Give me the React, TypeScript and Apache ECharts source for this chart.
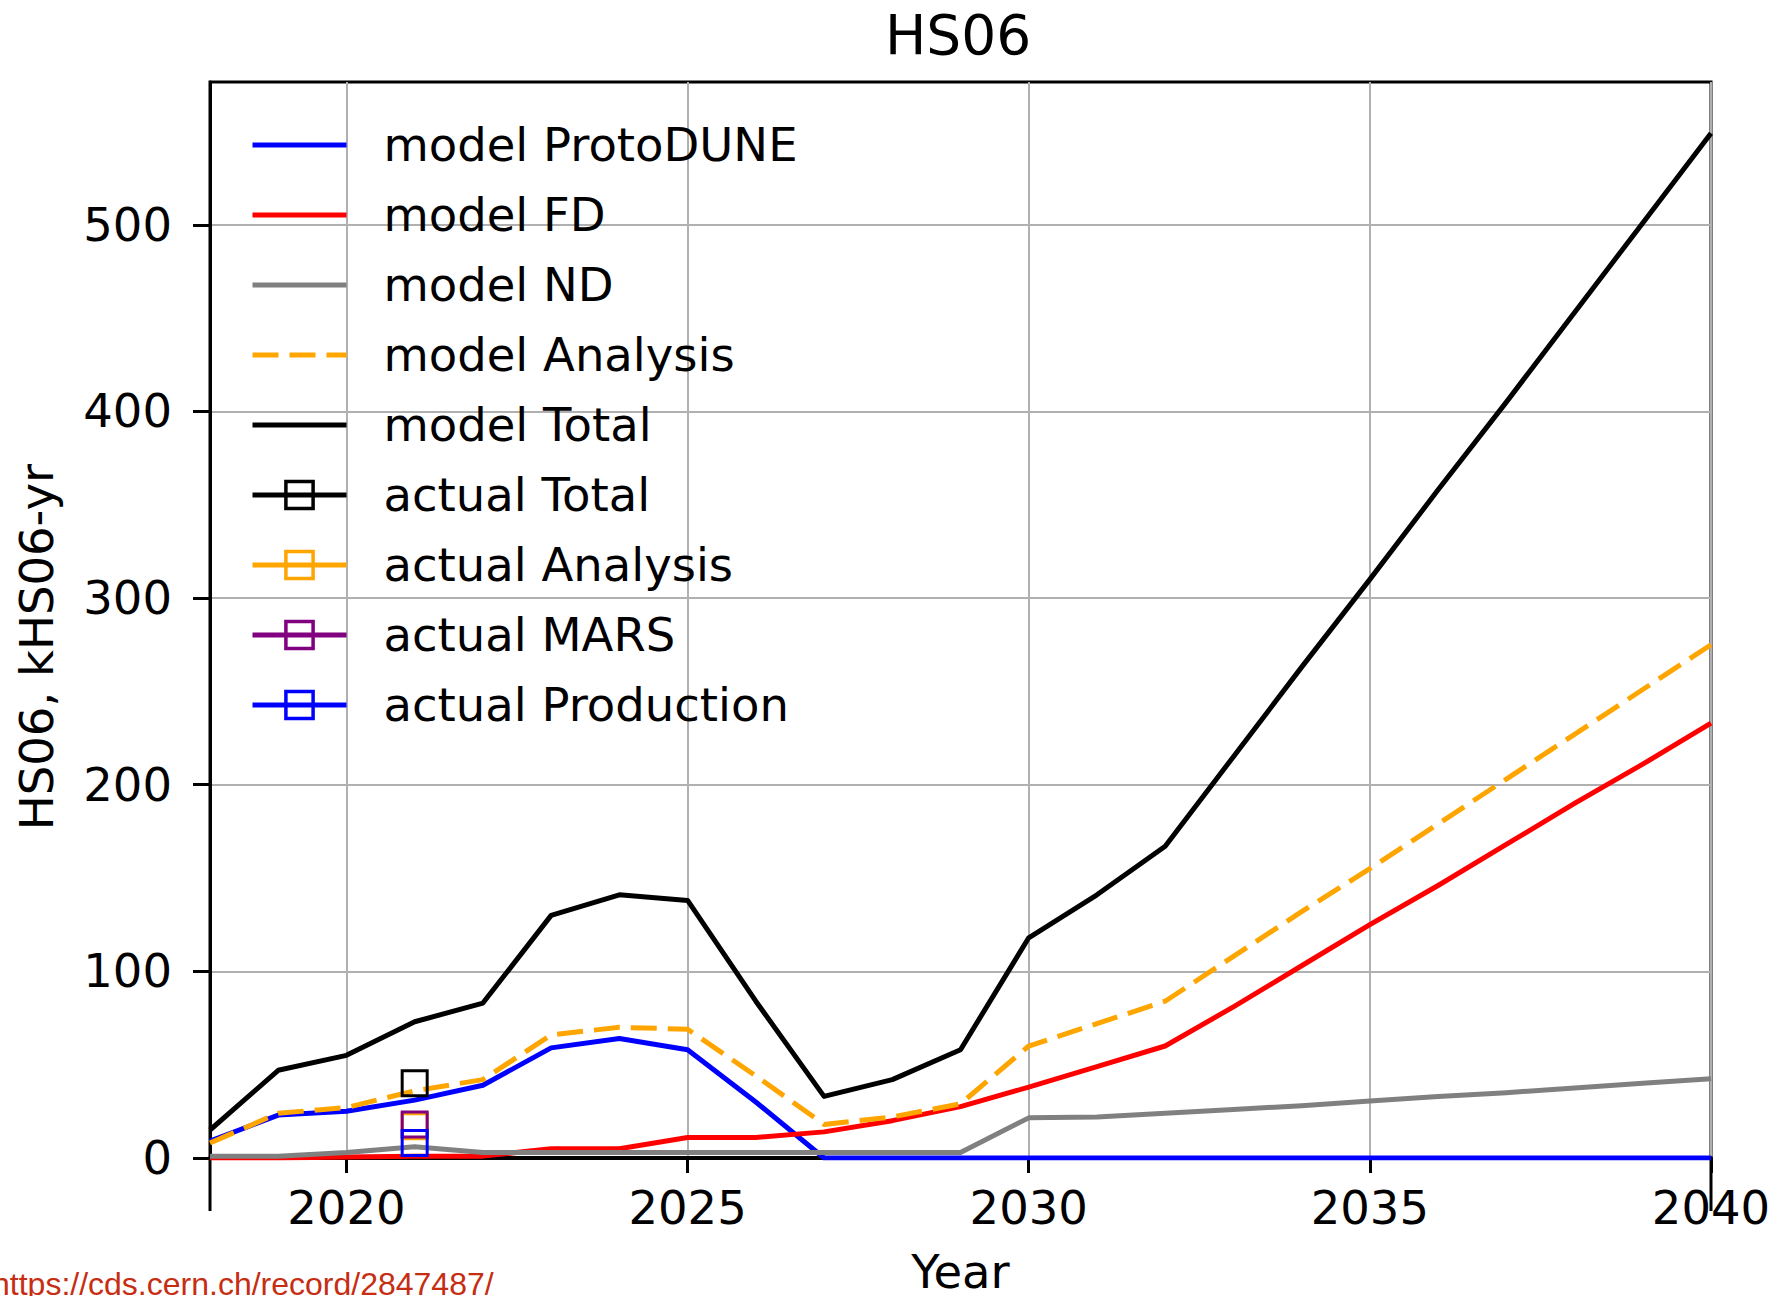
import React, { useEffect, useRef } from 'react';
import * as echarts from 'echarts';

const years = [2018, 2019, 2020, 2021, 2022, 2023, 2024, 2025, 2026, 2027, 2028, 2029, 2030, 2031, 2032, 2033, 2034, 2035, 2036, 2037, 2038, 2039, 2040];

const modelProtoDUNE = [9, 23, 25, 31, 39, 59, 64, 58, 30, 0, 0, 0, 0, 0, 0, 0, 0, 0, 0, 0, 0, 0, 0];
const modelFD = [0, 0, 0.5, 1, 1, 5, 5, 11, 11, 14, 20, 27.5, 38, 49, 60, 81, 103, 125, 146, 168, 190, 211, 233];
const modelND = [1, 1, 3, 6, 3, 3, 3, 3, 3, 3, 3, 3, 21.5, 22, 24, 26, 28, 30.5, 33, 35, 37.5, 40, 42.5];
const modelAnalysis = [8, 24, 27, 36, 42, 66, 70, 69, 44, 18, 22, 29, 60, 72, 84, 108, 132, 155, 179, 203, 227, 251, 275];
const modelTotal = [15, 47, 55, 73, 83, 130, 141, 138, 84, 33, 42, 58, 118, 141, 167, 215, 263, 310, 358, 405, 453, 501, 549];

const actualYears = [2021];
const actualTotal = [40];
const actualAnalysis = [17];
const actualMARS = [18];
const actualProduction = [8];

const xTicks = [2020, 2025, 2030, 2035, 2040];
const yTicks = [0, 100, 200, 300, 400, 500];

const FONT = 'DejaVu Sans';
const FS = 46.5;

function pairs(xs: number[], ys: number[]) {
  return xs.map((x, i) => [x, ys[i]]);
}

function modelSeries(name: string, values: number[], color: string, dashed = false) {
  return {
    name,
    type: 'line',
    data: pairs(years, values),
    symbol: 'none',
    showSymbol: false,
    itemStyle: { color },
    lineStyle: { color, width: 5, type: dashed ? [26, 11] : 'solid', cap: 'butt', join: 'round' },
    emphasis: { disabled: true },
  };
}

function actualSeries(name: string, values: number[], color: string) {
  return {
    name,
    type: 'line',
    data: pairs(actualYears, values),
    symbol: 'rect',
    symbolSize: 25,
    showSymbol: true,
    itemStyle: { color: 'rgba(0,0,0,0)', borderColor: color, borderWidth: 3 },
    lineStyle: { color, width: 5 },
    emphasis: { disabled: true },
  };
}

export default function App() {
  const ref = useRef<HTMLDivElement>(null);

  useEffect(() => {
    const chart = echarts.init(ref.current!, null, { renderer: 'svg' });
    const option: any = {
      animation: false,
      backgroundColor: '#ffffff',
      title: {
        text: 'HS06',
        left: 880,
        top: 2,
        textStyle: { fontFamily: FONT, fontSize: 55, fontWeight: 'normal', color: '#000' },
      },
      grid: {
        left: 210,
        top: 82,
        right: 59,
        bottom: 138,
        show: true,
        borderColor: '#000',
        borderWidth: 3,
        backgroundColor: 'transparent',
        containLabel: false,
        outerBoundsMode: 'none',
      },
      legend: {
        orient: 'vertical',
        left: 245,
        top: 105,
        padding: 5,
        itemWidth: 94,
        itemHeight: 34,
        itemGap: 0,
        selectedMode: false,
        itemStyle: { borderWidth: 3.5 },
        lineStyle: { width: 5 },
        textStyle: {
          fontFamily: FONT,
          fontSize: FS,
          color: '#000',
          lineHeight: 70,
          padding: [0, 0, 0, 32],
        },
        data: [
          { name: 'model ProtoDUNE', itemStyle: { opacity: 0 } },
          { name: 'model FD', itemStyle: { opacity: 0 } },
          { name: 'model ND', itemStyle: { opacity: 0 } },
          { name: 'model Analysis', itemStyle: { opacity: 0 } },
          { name: 'model Total', itemStyle: { opacity: 0 } },
          { name: 'actual Total' },
          { name: 'actual Analysis' },
          { name: 'actual MARS' },
          { name: 'actual Production' },
        ],
      },
      xAxis: {
        type: 'value',
        min: 2018,
        max: 2040,
        name: 'Year',
        nameLocation: 'middle',
        nameGap: 90,
        nameTextStyle: { fontFamily: FONT, fontSize: FS, color: '#000' },
        axisLine: { show: true, onZero: false, lineStyle: { color: '#000', width: 4 } },
        axisTick: { show: true, length: 15, lineStyle: { color: '#000', width: 3 }, customValues: xTicks },
        axisLabel: {
          show: true,
          margin: 26,
          fontFamily: FONT,
          fontSize: FS,
          color: '#000',
          customValues: xTicks,
          formatter: (v: number) => String(v),
        },
        splitLine: { show: true, lineStyle: { color: '#b0b0b0', width: 2 } },
      },
      yAxis: {
        type: 'value',
        min: 0,
        max: 576.5,
        axisLine: { show: true, lineStyle: { color: '#000', width: 3 } },
        axisTick: { show: true, length: 17, lineStyle: { color: '#000', width: 3 }, customValues: yTicks },
        axisLabel: {
          show: true,
          margin: 38,
          fontFamily: FONT,
          fontSize: FS,
          color: '#000',
          customValues: yTicks,
        },
        splitLine: { show: true, lineStyle: { color: '#b0b0b0', width: 2 } },
      },
      graphic: [
        {
          type: 'text',
          x: 37,
          y: 647,
          rotation: Math.PI / 2,
          style: {
            text: 'HS06, kHS06-yr',
            fontFamily: FONT,
            fontSize: FS,
            fill: '#000',
            align: 'center',
            verticalAlign: 'middle',
          },
        },
        {
          type: 'line',
          shape: { x1: 210, y1: 1158, x2: 210, y2: 1211 },
          style: { stroke: '#000', lineWidth: 3 },
        },
        {
          type: 'line',
          shape: { x1: 1711, y1: 1158, x2: 1711, y2: 1211 },
          style: { stroke: '#000', lineWidth: 3 },
        },
        {
          type: 'text',
          x: -8,
          y: 1284,
          style: {
            text: 'https://cds.cern.ch/record/2847487/',
            fontFamily: 'Liberation Sans',
            fontSize: 32,
            fill: '#c62d12',
            align: 'left',
            verticalAlign: 'middle',
          },
        },
      ],
      series: [
        modelSeries('model ProtoDUNE', modelProtoDUNE, '#0000ff'),
        modelSeries('model FD', modelFD, '#ff0000'),
        modelSeries('model ND', modelND, '#808080'),
        modelSeries('model Analysis', modelAnalysis, '#ffa500', true),
        modelSeries('model Total', modelTotal, '#000000'),
        actualSeries('actual Total', actualTotal, '#000000'),
        actualSeries('actual Analysis', actualAnalysis, '#ffa500'),
        actualSeries('actual MARS', actualMARS, '#800080'),
        actualSeries('actual Production', actualProduction, '#0000ff'),
      ],
    };
    chart.setOption(option);
    return () => chart.dispose();
  }, []);

  return (
    <div
      ref={ref}
      style={{ position: 'fixed', left: 0, top: 0, width: 1770, height: 1296, background: '#fff' }}
    />
  );
}
